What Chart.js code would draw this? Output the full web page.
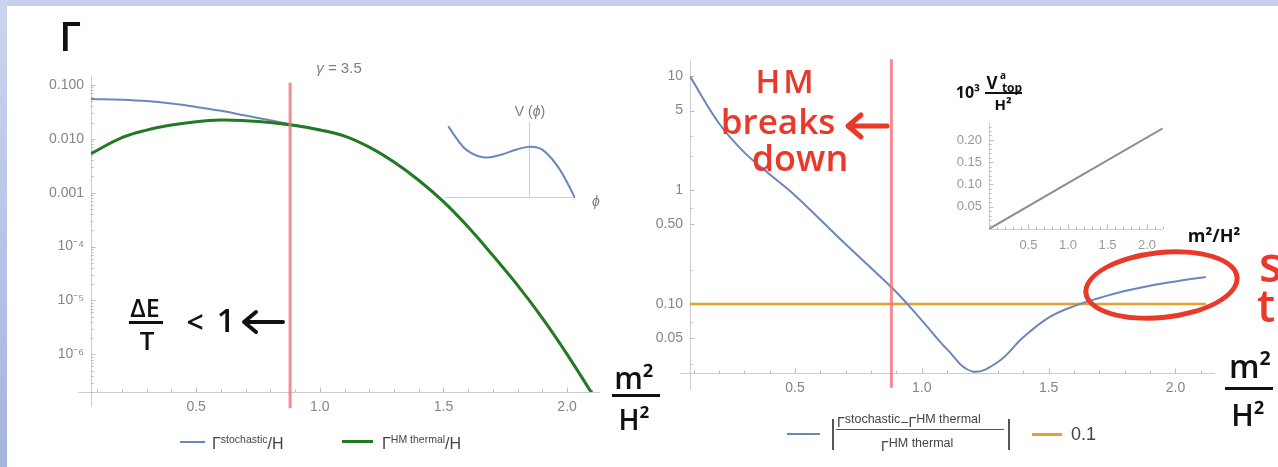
<!DOCTYPE html>
<html>
<head>
<meta charset="utf-8">
<script src="https://cdn.jsdelivr.net/npm/chart.js@4.4.1/dist/chart.umd.min.js"></script>
<style>
body { margin: 0; width: 1278px; height: 467px; position: relative; overflow: hidden; background: #fff; font-family: "Liberation Sans", Arial, sans-serif; }
.frameTop { position: absolute; left: 0; top: 0; width: 1278px; height: 6px; background: #c6d0ec; }
.frameLeft { position: absolute; left: 0; top: 0; width: 7px; height: 467px; background: linear-gradient(#ccd5ef, #a5b4df); }
.box { position: absolute; }
.t { position: absolute; white-space: nowrap; line-height: 1; transform: translate(-50%, -50%); }
.hand { font-family: "Open Sans", sans-serif; font-weight: 600; color: #111; }
.red { color: #e8392b; }
.gray { color: #7d7d7d; }
.bar { position: absolute; background: #111; }
.lg { position: absolute; white-space: nowrap; line-height: 1; color: #444; font-size: 16px; }
.lg sup { font-size: 10.5px; vertical-align: 6px; }
.sw { position: absolute; }
svg { position: absolute; overflow: visible; }
</style>
</head>
<body>
<div class="frameTop"></div>
<div class="frameLeft"></div>

<div class="box" style="left:31px;top:60px;width:569px;height:362px"><canvas id="leftChart"></canvas></div>
<div class="box" style="left:640px;top:45px;width:575px;height:358px"><canvas id="rightChart"></canvas></div>
<div class="box" style="left:445px;top:122px;width:130px;height:76px"><canvas id="potChart"></canvas></div>
<div class="box" style="left:949px;top:108px;width:216px;height:146px"><canvas id="vtopChart"></canvas></div>

<!-- plot labels -->
<div class="t gray" style="left:339px;top:67px;font-size:15px"><i>γ</i> = 3.5</div>
<div class="t gray" style="left:530px;top:111px;font-size:14px">V (<i>ϕ</i>)</div>
<div class="t gray" style="left:596px;top:201px;font-size:14px"><i>ϕ</i></div>

<!-- left legend -->
<div class="sw" style="left:180px;top:441px;width:25px;height:2px;background:#6a87bb"></div>
<div class="lg" style="left:212px;top:434px">Γ<sup>stochastic</sup>/H</div>
<div class="sw" style="left:342px;top:440px;width:31px;height:3px;background:#237a23"></div>
<div class="lg" style="left:382px;top:434px">Γ<sup>HM thermal</sup>/H</div>

<!-- right legend -->
<div class="sw" style="left:787px;top:433px;width:33px;height:2px;background:#6a87bb"></div>
<div class="sw" style="left:832px;top:419px;width:1.5px;height:31px;background:#555"></div>
<div class="lg" style="left:837px;top:413px;font-size:14px">Γ<sup style="font-size:12.5px;vertical-align:4px">stochastic</sup>−Γ<sup style="font-size:12.5px;vertical-align:4px">HM thermal</sup></div>
<div class="sw" style="left:836px;top:429px;width:168px;height:1px;background:#555"></div>
<div class="lg" style="left:881px;top:437px;font-size:14px">Γ<sup style="font-size:12.5px;vertical-align:4px">HM thermal</sup></div>
<div class="sw" style="left:1008px;top:419px;width:1.5px;height:31px;background:#555"></div>
<div class="sw" style="left:1032px;top:433px;width:30px;height:3px;background:#e0a232"></div>
<div class="lg" style="left:1071px;top:425px;font-size:18px">0.1</div>

<!-- handwritten notes -->
<div class="t hand" style="left:70px;top:36px;font-size:40px">Γ</div>
<div class="t hand" style="left:145px;top:307px;font-size:25px">ΔE</div>
<div class="bar" style="left:129px;top:321px;width:34px;height:3px"></div>
<div class="t hand" style="left:147px;top:340px;font-size:26px">T</div>
<div class="t hand" style="left:195px;top:322px;font-size:30px">&lt;</div>
<div class="t hand" style="left:226px;top:320px;font-size:32px">1</div>
<svg style="left:241px;top:310px" width="44" height="24"><path d="M42 12 H4 M15 2 L3 12 L15 22" stroke="#111" stroke-width="4" fill="none" stroke-linecap="round" stroke-linejoin="round"/></svg>

<div class="t hand" style="left:634px;top:378px;font-size:30px">m²</div>
<div class="bar" style="left:612px;top:394px;width:48px;height:3px"></div>
<div class="t hand" style="left:634px;top:419px;font-size:28px">H²</div>

<div class="t hand red" style="left:786px;top:80px;font-size:33px;letter-spacing:3px">HM</div>
<div class="t hand red" style="left:778px;top:120px;font-size:35px">breaks</div>
<svg style="left:845px;top:112px" width="44" height="28"><path d="M42 14 H4 M16 3 L3 14 L16 25" stroke="#e8392b" stroke-width="5" fill="none" stroke-linecap="round" stroke-linejoin="round"/></svg>
<div class="t hand red" style="left:800px;top:158px;font-size:36px">down</div>

<div class="t hand" style="left:968px;top:92px;font-size:16px;font-weight:700">10³</div>
<div class="t hand" style="left:992px;top:82px;font-size:17px;font-weight:700">V</div>
<div class="t hand" style="left:1003px;top:75px;font-size:10px;font-weight:700">a</div>
<div class="t hand" style="left:1012px;top:88px;font-size:12px;font-weight:700">top</div>
<div class="bar" style="left:985px;top:92px;width:37px;height:2px"></div>
<div class="t hand" style="left:1003px;top:104px;font-size:15px;font-weight:700">H²</div>
<div class="t hand" style="left:1214px;top:235px;font-size:18px;font-weight:700">m²/H²</div>

<div style="position:absolute;left:1083px;top:250px;width:157px;height:70px;box-sizing:border-box;border:5px solid #e8392b;border-radius:50%;transform:rotate(-6deg)"></div>
<div class="hand red" style="position:absolute;left:1259px;top:240px;font-size:48px;line-height:1">s</div>
<div class="hand red" style="position:absolute;left:1257px;top:281px;font-size:46px;line-height:1">t</div>

<div class="t hand" style="left:1250px;top:366px;font-size:32px">m²</div>
<div class="bar" style="left:1225px;top:387px;width:48px;height:3px"></div>
<div class="t hand" style="left:1248px;top:415px;font-size:30px">H²</div>

<script>
// where the Hawking-Moss estimate breaks down (red vertical line)
const hmLimit = 0.88;

// left panel: decay rates / H against m^2/H^2
const m2Left = [0.075, 0.2, 0.3, 0.4, 0.5, 0.6, 0.7, 0.8, 0.9, 1.0, 1.1, 1.2, 1.3, 1.4, 1.5, 1.6, 1.7, 1.8, 1.9, 2.0, 2.1];
const rateStoch = [0.055, 0.053, 0.050, 0.045, 0.039, 0.033, 0.027, 0.022, 0.0180, 0.0149, 0.0113, 0.0070, 0.0037, 0.0017, 6.8e-4, 2.3e-4, 6.8e-5, 1.9e-5, 4.7e-6, 1.0e-6, 1.9e-7];
const rateHM = [0.0053, 0.0105, 0.0145, 0.0180, 0.0208, 0.0222, 0.0216, 0.0200, 0.0176, 0.0146, 0.0112, 0.0070, 0.0037, 0.0017, 6.8e-4, 2.3e-4, 6.8e-5, 1.9e-5, 4.7e-6, 1.0e-6, 1.9e-7];
const leftYTicks = [1e-6, 1e-5, 1e-4, 1e-3, 0.01, 0.1];
const leftYLabels = ['10⁻⁶', '10⁻⁵', '10⁻⁴', '0.001', '0.010', '0.100'];
const xTicks = [0.5, 1.0, 1.5, 2.0];

// right panel: relative difference of the two rates
const m2Right = [0.086, 0.2, 0.3, 0.4, 0.5, 0.6, 0.7, 0.8, 0.9, 1.0, 1.1, 1.2, 1.3, 1.4, 1.5, 1.6, 1.7, 1.8, 1.9, 2.0, 2.12];
const relDiff = [10, 3.87, 2.15, 1.38, 0.90, 0.55, 0.335, 0.207, 0.127, 0.072, 0.040, 0.0255, 0.031, 0.051, 0.076, 0.096, 0.113, 0.130, 0.145, 0.158, 0.173];
const threshold = 0.1;
const rightYTicks = [0.05, 0.1, 0.5, 1, 5, 10];
const rightYLabels = ['0.05', '0.10', '0.50', '1', '5', '10'];
const rightYMinor = [0.03, 0.07, 0.2, 0.7, 2, 3];

// inset: sketch of the potential
const phi = [-2.43, -2.18, -1.88, -1.38, -0.88, -0.38, 0.02, 0.32, 0.62, 0.92, 1.17, 1.37];
const potential = [2.17, 1.80, 1.45, 1.23, 1.30, 1.47, 1.55, 1.50, 1.25, 0.85, 0.40, 0.0];

// inset: 10^3 V_top / H^2 against m^2/H^2
const m2Inset = [0, 1.0, 2.2];
const vTop = [0.0, 0.103, 0.226];
const insetYTicks = [0.05, 0.10, 0.15, 0.20];
const insetYLabels = ['0.05', '0.10', '0.15', '0.20'];

const tickGray = '#858585';
const axisGray = '#cdcdcd';

function pts(xs, ys) {
    return xs.map((x, i) => ({ x: x, y: ys[i] }));
}

function fixTicks(values) {
    return function (scale) {
        scale.ticks = values.map(v => ({ value: v }));
    };
}

function range(from, to, step) {
    const out = [];
    for (let v = from; v <= to + 1e-9; v += step) out.push(Math.round(v * 100) / 100);
    return out;
}

function logMinor(fromExp, toExp) {
    const out = [];
    for (let e = fromExp; e <= toExp; e++) {
        for (let k = 2; k <= 9; k++) out.push(k * Math.pow(10, e));
    }
    return out;
}

// Mathematica-like axes: thin gray lines with small inward ticks
const mathAxes = {
    id: 'mathAxes',
    beforeDatasetsDraw(chart, args, o) {
        if (!o || !o.on) return;
        const ctx = chart.ctx;
        const a = chart.chartArea;
        const x = chart.scales.x;
        const y = chart.scales.y;
        ctx.save();
        ctx.strokeStyle = axisGray;
        ctx.lineWidth = 1;
        ctx.beginPath();
        ctx.moveTo(a.left - (o.extLeft || 0), a.bottom + 0.5);
        ctx.lineTo(a.right, a.bottom + 0.5);
        ctx.moveTo(a.left + 0.5, a.top);
        ctx.lineTo(a.left + 0.5, a.bottom + (o.extDown || 0));
        ctx.stroke();
        ctx.strokeStyle = '#bbbbbb';
        ctx.beginPath();
        const xMark = (vals, len) => vals.forEach(v => {
            if (v < x.min || v > x.max) return;
            const p = Math.round(x.getPixelForValue(v)) + 0.5;
            ctx.moveTo(p, a.bottom);
            ctx.lineTo(p, a.bottom - len);
        });
        const yMark = (vals, len) => vals.forEach(v => {
            if (v < y.min || v > y.max) return;
            const p = Math.round(y.getPixelForValue(v)) + 0.5;
            ctx.moveTo(a.left, p);
            ctx.lineTo(a.left + len, p);
        });
        xMark(o.xMajor || [], 4.5);
        xMark(o.xMinor || [], 2.5);
        yMark(o.yMajor || [], 4.5);
        yMark(o.yMinor || [], 2.5);
        ctx.stroke();
        ctx.restore();
    }
};
Chart.register(mathAxes);

function panelOptions(cfg) {
    return {
        responsive: true,
        maintainAspectRatio: false,
        animation: false,
        layout: { padding: { top: cfg.padTop } },
        plugins: {
            legend: { display: false },
            tooltip: { enabled: false },
            mathAxes: {
                on: true,
                xMajor: cfg.xTicks,
                xMinor: cfg.xMinor,
                yMajor: cfg.yTicks,
                yMinor: cfg.yMinor,
                extLeft: cfg.extLeft,
                extDown: cfg.extDown
            }
        },
        scales: {
            x: {
                type: 'linear',
                min: cfg.xMin,
                max: cfg.xMax,
                afterBuildTicks: fixTicks(cfg.xTicks),
                afterFit: s => { s.height = cfg.xHeight; },
                grid: { display: false, drawTicks: false },
                border: { display: false },
                ticks: {
                    padding: cfg.xPad,
                    color: cfg.labelColor,
                    font: { family: 'Liberation Sans', size: cfg.fontSize },
                    maxRotation: 0,
                    autoSkip: false,
                    callback: v => v.toFixed(1)
                }
            },
            y: {
                type: cfg.yType,
                min: cfg.yMin,
                max: cfg.yMax,
                afterBuildTicks: fixTicks(cfg.yTicks),
                afterFit: s => { s.width = cfg.yWidth; },
                grid: { display: false, drawTicks: false },
                border: { display: false },
                ticks: {
                    padding: 7,
                    color: cfg.labelColor,
                    font: { family: 'Liberation Sans', size: cfg.fontSize },
                    autoSkip: false,
                    callback: (v, i) => cfg.yLabels[i]
                }
            }
        }
    };
}

// Left panel
new Chart(document.getElementById('leftChart'), {
    type: 'line',
    data: {
        datasets: [
            {
                data: [{ x: hmLimit, y: 0.109 }, { x: hmLimit, y: 1.0e-7 }],
                borderColor: 'rgba(240, 110, 120, 0.8)',
                borderWidth: 3,
                pointRadius: 0,
                clip: false,
                order: 0
            },
            {
                data: pts(m2Left, rateHM),
                borderColor: '#237a23',
                borderWidth: 3,
                pointRadius: 0,
                tension: 0.4,
                order: 1
            },
            {
                data: pts(m2Left, rateStoch),
                borderColor: '#6a87bb',
                borderWidth: 2,
                pointRadius: 0,
                tension: 0.4,
                order: 2
            }
        ]
    },
    options: panelOptions({
        padTop: 15, xMin: 0.075, xMax: 2.133, xTicks: xTicks, xMinor: range(0.1, 2.1, 0.1),
        yType: 'logarithmic', yMin: 2e-7, yMax: 0.15, yTicks: leftYTicks, yLabels: leftYLabels,
        yMinor: logMinor(-7, -2), yWidth: 60, xHeight: 30, xPad: 7, extLeft: 13, extDown: 15,
        labelColor: tickGray, fontSize: 14
    })
});

// Right panel
new Chart(document.getElementById('rightChart'), {
    type: 'line',
    data: {
        datasets: [
            {
                data: [{ x: hmLimit, y: 14.1 }, { x: hmLimit, y: 0.0184 }],
                borderColor: 'rgba(240, 110, 120, 0.8)',
                borderWidth: 3,
                pointRadius: 0,
                clip: false,
                order: 0
            },
            {
                data: pts(m2Right, relDiff),
                borderColor: '#6a87bb',
                borderWidth: 2,
                pointRadius: 0,
                tension: 0.4,
                order: 1
            },
            {
                data: [{ x: m2Right[0], y: threshold }, { x: m2Right[m2Right.length - 1], y: threshold }],
                borderColor: '#e0a232',
                borderWidth: 2.5,
                pointRadius: 0,
                order: 2
            }
        ]
    },
    options: panelOptions({
        padTop: 15, xMin: 0.086, xMax: 2.156, xTicks: xTicks, xMinor: range(0.1, 2.1, 0.1),
        yType: 'logarithmic', yMin: 0.0248, yMax: 13.8, yTicks: rightYTicks, yLabels: rightYLabels,
        yMinor: rightYMinor, yWidth: 50, xHeight: 30, xPad: 7, extLeft: 10, extDown: 17,
        labelColor: tickGray, fontSize: 14
    })
});

// Potential sketch inset
new Chart(document.getElementById('potChart'), {
    type: 'line',
    data: {
        datasets: [{
            data: pts(phi, potential),
            borderColor: '#6a87bb',
            borderWidth: 2,
            pointRadius: 0,
            tension: 0.4,
            clip: false
        }]
    },
    options: {
        responsive: true,
        maintainAspectRatio: false,
        animation: false,
        plugins: { legend: { display: false }, tooltip: { enabled: false } },
        scales: {
            x: { type: 'linear', display: false, min: -2.53, max: 1.37 },
            y: { type: 'linear', display: false, min: 0, max: 2.3 }
        }
    },
    plugins: [{
        id: 'potAxes',
        beforeDatasetsDraw(chart) {
            const ctx = chart.ctx;
            const a = chart.chartArea;
            const x0 = Math.round(chart.scales.x.getPixelForValue(0)) + 0.5;
            const y0 = Math.round(chart.scales.y.getPixelForValue(0)) - 0.5;
            ctx.save();
            ctx.strokeStyle = axisGray;
            ctx.lineWidth = 1;
            ctx.beginPath();
            ctx.moveTo(a.left, y0);
            ctx.lineTo(a.right, y0);
            ctx.moveTo(x0, y0);
            ctx.lineTo(x0, a.top);
            ctx.stroke();
            ctx.restore();
        }
    }]
});

// V_top inset
new Chart(document.getElementById('vtopChart'), {
    type: 'line',
    data: {
        datasets: [{
            data: pts(m2Inset, vTop),
            borderColor: '#8c8c8c',
            borderWidth: 2,
            pointRadius: 0
        }]
    },
    options: panelOptions({
        padTop: 15, xMin: 0, xMax: 2.2, xTicks: xTicks, xMinor: range(0.1, 2.2, 0.1),
        yType: 'linear', yMin: 0, yMax: 0.238, yTicks: insetYTicks, yLabels: insetYLabels,
        yMinor: range(0.01, 0.23, 0.01), yWidth: 40, xHeight: 25, xPad: 9, extLeft: 0, extDown: 0,
        labelColor: '#999999', fontSize: 13
    })
});
</script>
</body>
</html>
